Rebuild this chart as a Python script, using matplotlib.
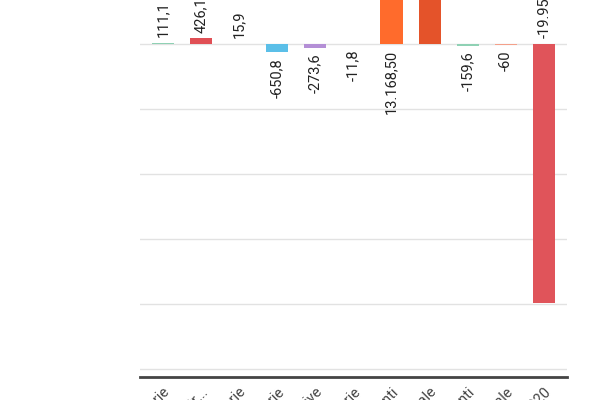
import matplotlib
matplotlib.use("Agg")
import matplotlib.pyplot as plt

categories = ["Entrate tributarie", "Trasferimenti correnti da altr...", "Entrate extratributarie",
              "Spese tributarie", "Spese per le attività produttive", "Spese extratributarie",
              "Spese per investimenti", "Totale generale", "Rimborsi prestiti e investimenti",
              "Servizi conto terzi totale", "Disavanzo 2020"]
values = [111.1, 426.1, 15.9, -650.8, -273.6, -11.8, 13168.5, 12800.0, -159.6, -60.0, -19950.0]
labels = ["111,1", "426,1", "15,9", "-650,8", "-273,6", "-11,8", "13.168,50", "12.800,00",
          "-159,6", "-60", "-19.950,00"]
colors = ["#8fd1b4", "#e04f55", "#f2c14e", "#5bbfe8", "#b48fd6", "#9aa0a6", "#ff6b2c",
          "#e4532a", "#8fd1b4", "#f4a08a", "#e0545a"]

plt.rcParams['font.family'] = ['Roboto', 'DejaVu Sans']
fig = plt.figure(figsize=(6, 4), dpi=100)
ax = fig.add_axes([0.233, 0.0575, 0.712, 0.9425])
x = list(range(len(values)))
ax.bar(x, values, width=0.58, color=colors, zorder=3)
for i, (xi, v, lab) in enumerate(zip(x, values, labels)):
    big = abs(v) > 5000
    if v >= 0 and not big:
        anchor, dy, va = v, 4, "bottom"
    elif v >= 0 and big:
        anchor, dy, va = 0, -4, "top"
    elif v < 0 and big:
        anchor, dy, va = 0, 4, "bottom"
    else:
        anchor, dy, va = v, -4, "top"
    if i == 7:
        anchor, dy, va = v, 4, "bottom"
    ax.annotate(lab, (xi, anchor), xytext=(0, dy), textcoords="offset points", rotation=90,
                ha="center", va=va, fontsize=10.5, color="#222222", zorder=4,
                annotation_clip=False)
ax.set_ylim(-25615, 3385)
ax.set_xlim(-0.6, 10.6)
ax.set_yticks([0, -5000, -10000, -15000, -20000, -25000])
ax.yaxis.grid(True, color="#e2e2e2", linewidth=1, zorder=0)
ax.tick_params(axis="y", length=0, labelleft=False)
ax.tick_params(axis="x", length=0, pad=6)
ax.set_xticks(x)
ax.set_xticklabels(categories, rotation=45, ha="right", rotation_mode="anchor",
                   fontsize=10.5, color="#444444")
for s in ["top", "left", "right"]:
    ax.spines[s].set_visible(False)
ax.spines["bottom"].set_color("#444444")
ax.spines["bottom"].set_linewidth(2)
fig.savefig("out.png", dpi=100)
